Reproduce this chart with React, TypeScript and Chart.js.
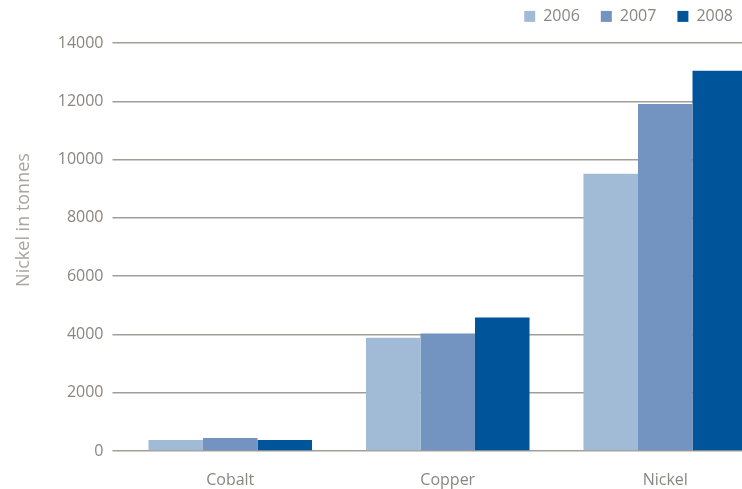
import React, { useEffect, useRef } from "react";
import { Chart, registerables } from "chart.js";

Chart.register(...registerables);

const categories = ["Cobalt", "Copper", "Nickel"];
const seriesNames = ["2006", "2007", "2008"];
const values2006 = [380, 3890, 9510];
const values2007 = [450, 4030, 11910];
const values2008 = [380, 4580, 13050];
const seriesColors = ["#a1bbd6", "#7394c0", "#00559a"];
const yTickValues = [0, 2000, 4000, 6000, 8000, 10000, 12000, 14000];
const yTitle = "Nickel in tonnes";

const layoutTweaks = {
  id: "layoutTweaks",
  afterLayout(chart: any) {
    const lg = chart.legend;
    if (lg) {
      lg.right = 754;
      lg.top = -12.6;
      lg.bottom = 43;
    }
    const y = chart.scales.y;
    if (y) {
      // move the axis title's centre up to where the reference has it
      y.top = 2 * 220 - y.bottom;
    }
  },
};

export default function App() {
  const ref = useRef<HTMLCanvasElement | null>(null);
  useEffect(() => {
    document.body.style.margin = "0";
    if (!ref.current) return;
    const chart = new Chart(ref.current, {
      type: "bar",
      data: {
        labels: categories,
        datasets: [values2006, values2007, values2008].map((d, i) => ({
          label: seriesNames[i],
          data: d,
          backgroundColor: seriesColors[i],
          borderWidth: 0,
          categoryPercentage: 0.752,
          barPercentage: 1.0,
        })),
      },
      options: {
        responsive: false,
        animation: false,
        devicePixelRatio: 1,
        font: { family: "'Open Sans', sans-serif" },
        layout: { padding: 0 },
        plugins: {
          legend: {
            position: "top",
            align: "end",
            maxHeight: 43,
            labels: {
              boxWidth: 11,
              boxHeight: 11,
              padding: 21,
              color: "#8b857f",
              font: { family: "'Open Sans', sans-serif", size: 16 },
            },
          },
          tooltip: { enabled: false },
        },
        scales: {
          x: {
            afterFit: (s: any) => {
              s.height = 38;
            },
            grid: { display: false, drawTicks: false },
            border: { display: false },
            ticks: {
              padding: 19.4,
              color: "#8b857f",
              font: { family: "'Open Sans', sans-serif", size: 16 },
            },
          },
          y: {
            min: 0,
            max: 14000,
            afterFit: (s: any) => {
              s.width = 121.5;
            },
            afterBuildTicks: (s: any) => {
              s.ticks = yTickValues.map((v) => ({ value: v }));
            },
            grid: {
              color: "#a39d98",
              lineWidth: 1.5,
              drawTicks: true,
              tickLength: 9,
            },
            border: { display: false },
            ticks: {
              padding: 9,
              color: "#8b857f",
              font: { family: "'Open Sans', sans-serif", size: 16 },
              callback: (v: any) => String(v),
            },
            title: {
              display: true,
              text: yTitle,
              color: "#aaa5a0",
              padding: { top: 13, bottom: 0 },
              font: { family: "'Open Sans', sans-serif", size: 18 },
            },
          },
        },
      },
      plugins: [layoutTweaks],
    });
    return () => chart.destroy();
  }, []);
  return (
    <div style={{ position: "relative", width: 742, height: 489, overflow: "hidden" }}>
      <canvas ref={ref} width={774} height={489} style={{ width: 774, height: 489, display: "block" }} />
    </div>
  );
}
